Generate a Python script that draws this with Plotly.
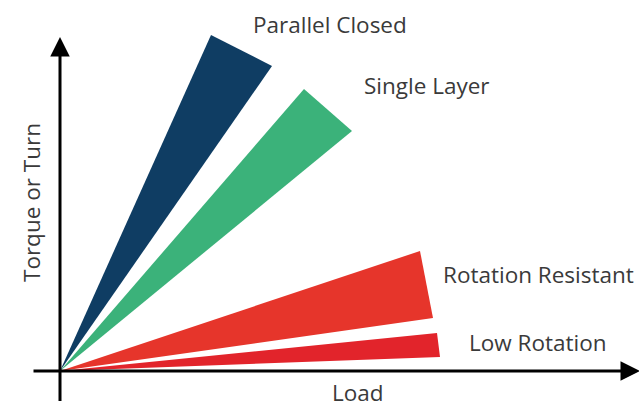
import plotly.graph_objects as go

# wire rope types: tips of each wedge (load, torque) from the origin
rope_types = ["Parallel Closed", "Single Layer", "Rotation Resistant", "Low Rotation"]
tip_a_load = [151, 244, 360, 377]
tip_a_torque = [336, 282, 120, 38]
tip_b_load = [212, 292, 373, 380]
tip_b_torque = [305, 240, 53, 14]
colors = ["#0f3d63", "#3bb27a", "#e6352b", "#e2242b"]

label_load = [270, 367, 478, 478]
label_torque = [347, 286, 97, 29]

FONT = "Open Sans"
TEXT_COLOR = "#3a3a3a"

fig = go.Figure()

for i, name in enumerate(rope_types):
    fig.add_trace(go.Scatter(
        x=[0, tip_a_load[i], tip_b_load[i], 0],
        y=[0, tip_a_torque[i], tip_b_torque[i], 0],
        fill="toself",
        fillcolor=colors[i],
        line=dict(width=0, color=colors[i]),
        mode="lines",
        hoverinfo="skip",
        showlegend=False,
    ))
    fig.add_annotation(x=label_load[i], y=label_torque[i], text=name,
                       showarrow=False, xanchor="center", yanchor="middle",
                       font=dict(family=FONT, size=22.5, color=TEXT_COLOR))

# axes drawn as arrows
fig.add_annotation(x=0, y=334, ax=0, ay=-40, xref="x", yref="y",
                   axref="x", ayref="y", showarrow=True, arrowhead=2,
                   arrowwidth=3, arrowsize=1.3, arrowcolor="black", text="")
fig.add_annotation(x=580, y=0, ax=-28, ay=0, xref="x", yref="y",
                   axref="x", ayref="y", showarrow=True, arrowhead=2,
                   arrowwidth=3, arrowsize=1.3, arrowcolor="black", text="")

fig.add_annotation(x=298, y=-21, text="Load", showarrow=False,
                   font=dict(family=FONT, size=22.5, color=TEXT_COLOR))
fig.add_annotation(x=-29, y=168, text="Torque or Turn", showarrow=False,
                   textangle=-90,
                   font=dict(family=FONT, size=22.5, color=TEXT_COLOR))

fig.update_xaxes(range=[-60, 579], visible=False, fixedrange=True)
fig.update_yaxes(range=[-30, 371], visible=False, fixedrange=True)
fig.update_layout(
    width=639, height=401,
    margin=dict(l=0, r=0, t=0, b=0),
    paper_bgcolor="white",
    plot_bgcolor="white",
)

# drop the default page margin so the figure fills the window
fig.write_html("out.html",
               config={"displayModeBar": False},
               post_script="document.body.style.margin='0';"
                           "document.body.style.overflow='hidden';")
